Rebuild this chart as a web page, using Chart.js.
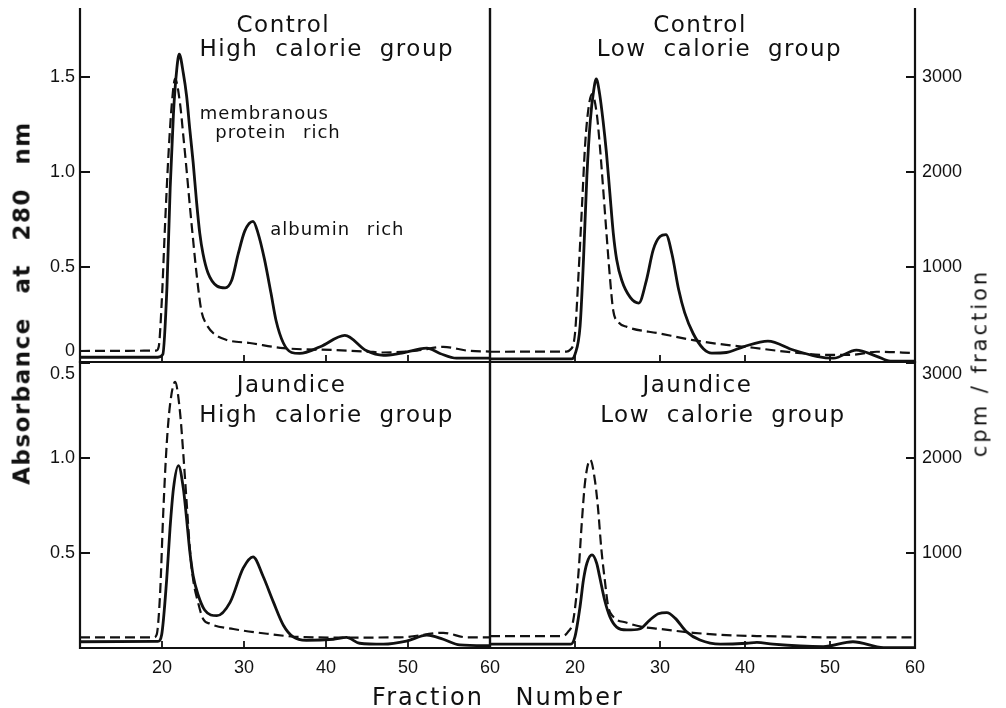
<!DOCTYPE html>
<html>
<head>
<meta charset="utf-8">
<script src="https://cdn.jsdelivr.net/npm/chart.js@4.4.1/dist/chart.umd.min.js"></script>
<style>
  html, body { margin: 0; padding: 0; background: #fff; }
  #wrap { position: relative; width: 1006px; height: 708px; overflow: hidden; background: #fff; }
  canvas { position: absolute; }
  .axis-title { position: absolute; white-space: nowrap; color: #111; line-height: 1;
    font-family: "DejaVu Sans", sans-serif; transform: translate(-50%, -50%); }
  .rot { transform: translate(-50%, -50%) rotate(-90deg); }
</style>
</head>
<body>
<div id="wrap">
  <canvas id="tl" width="510" height="364" style="left:0;top:0"></canvas>
  <canvas id="tr" width="518" height="364" style="left:488px;top:0"></canvas>
  <canvas id="bl" width="510" height="348" style="left:0;top:360px"></canvas>
  <canvas id="br" width="518" height="348" style="left:488px;top:360px"></canvas>
  <div class="axis-title rot" style="left:22px;top:303px;font-size:23px;font-weight:bold;letter-spacing:1.5px;word-spacing:14px">Absorbance at 280 nm</div>
  <div class="axis-title rot" style="left:980px;top:363px;font-size:21px;letter-spacing:3px">cpm / fraction</div>
  <div class="axis-title" style="left:498px;top:697px;font-size:24px;letter-spacing:2px;word-spacing:22px">Fraction Number</div>
</div>
<script>
// Gel filtration profiles: solid = absorbance at 280 nm (left axis),
// dashed = radioactivity, cpm/fraction (right axis).

// --- Control, high calorie group
const TL_SOLID_X = [10, 19.5, 20.1, 20.6, 21.0, 21.4, 21.8, 22.1, 22.6, 23.0, 23.4, 23.8, 24.2, 24.6, 25.0, 25.6, 26.7, 27.7, 28.5, 29.3, 30.1, 31.1, 31.7, 32.5, 33.3, 33.9, 34.8, 35.8, 36.8, 39.3, 42.3, 44.9, 47.0, 49.0, 52.3, 53.9, 55.9, 60];
const TL_SOLID = [0.025, 0.025, 0.04, 0.39, 0.92, 1.31, 1.54, 1.62, 1.52, 1.40, 1.22, 1.05, 0.85, 0.68, 0.57, 0.47, 0.40, 0.39, 0.43, 0.57, 0.69, 0.74, 0.68, 0.54, 0.36, 0.22, 0.10, 0.05, 0.045, 0.08, 0.14, 0.06, 0.035, 0.045, 0.073, 0.045, 0.02, 0.02];
const TL_DASH_X = [10, 19.3, 19.6, 19.96, 20.4, 20.8, 21.2, 21.6, 22.2, 22.6, 23.0, 23.4, 23.8, 24.2, 24.8, 25.4, 26.3, 27.9, 30.7, 34.8, 40.9, 45, 47, 51.1, 54.3, 57.2, 60];
const TL_DASH = [116, 120, 160, 620, 1500, 2200, 2720, 2980, 2720, 2380, 2020, 1640, 1280, 940, 540, 400, 300, 232, 200, 146, 126, 110, 100, 120, 160, 120, 110];

// --- Control, low calorie group
const TR_SOLID_X = [10, 19.6, 20.0, 20.6, 21.0, 21.4, 21.8, 22.2, 22.5, 22.9, 23.3, 23.7, 24.1, 24.5, 24.9, 25.5, 26.5, 27.5, 28.4, 29.2, 30.0, 30.7, 31.4, 32.2, 32.9, 33.9, 35.1, 36.1, 37.8, 39.8, 42.7, 45.7, 48.4, 50.4, 53.1, 55.5, 57.1, 60];
const TR_SOLID = [0.016, 0.016, 0.04, 0.19, 0.54, 0.98, 1.27, 1.43, 1.49, 1.41, 1.27, 1.10, 0.89, 0.68, 0.54, 0.43, 0.34, 0.31, 0.43, 0.59, 0.66, 0.67, 0.57, 0.38, 0.26, 0.15, 0.07, 0.047, 0.05, 0.08, 0.11, 0.063, 0.03, 0.02, 0.063, 0.03, 0.005, 0.005];
const TR_DASH_X = [10, 19.0, 19.4, 20.0, 20.4, 20.8, 21.2, 21.6, 22.0, 22.55, 22.9, 23.3, 23.7, 24.1, 24.5, 25.1, 26.1, 30.0, 33.9, 37.8, 41.0, 43.7, 46.5, 49.6, 52.4, 55.5, 60];
const TR_DASH = [108, 110, 126, 300, 900, 1600, 2300, 2680, 2820, 2620, 2300, 1840, 1360, 900, 540, 420, 370, 300, 230, 180, 150, 120, 94, 74, 74, 108, 94];

// --- Jaundice, high calorie group
const BL_SOLID_X = [10, 19.5, 19.96, 20.57, 20.98, 21.4, 22.0, 22.6, 23.0, 23.4, 23.8, 24.4, 25.2, 26.7, 28.3, 29.9, 31.1, 32.3, 33.6, 34.8, 36.0, 37.6, 40.9, 42.5, 44.1, 47.0, 49.8, 52.3, 54.3, 56.3, 60];
const BL_SOLID = [0.033, 0.035, 0.07, 0.36, 0.63, 0.84, 0.96, 0.84, 0.68, 0.505, 0.38, 0.28, 0.20, 0.17, 0.24, 0.42, 0.48, 0.38, 0.24, 0.12, 0.058, 0.04, 0.046, 0.056, 0.025, 0.02, 0.036, 0.068, 0.046, 0.016, 0.012];
const BL_DASH_X = [10, 19.0, 19.35, 19.76, 20.16, 20.57, 20.98, 21.6, 22.2, 22.6, 23.0, 23.4, 23.8, 24.4, 25.0, 25.85, 28.7, 32.8, 36.8, 42.9, 49.0, 54.3, 57.2, 60];
const BL_DASH = [112, 112, 140, 560, 1440, 2140, 2560, 2800, 2480, 2040, 1540, 1040, 720, 480, 308, 256, 200, 150, 116, 110, 112, 160, 112, 112];

// --- Jaundice, low calorie group
const BR_SOLID_X = [10, 19.5, 20.0, 20.6, 21.0, 21.4, 22.0, 22.55, 22.9, 23.5, 24.1, 24.9, 26.1, 27.6, 28.8, 29.8, 30.8, 31.8, 33.1, 34.7, 37.1, 40.2, 41.4, 43.3, 49.2, 52.7, 56.3, 60];
const BR_SOLID = [0.02, 0.02, 0.06, 0.22, 0.36, 0.446, 0.49, 0.446, 0.375, 0.25, 0.165, 0.11, 0.095, 0.10, 0.147, 0.18, 0.186, 0.156, 0.086, 0.042, 0.02, 0.025, 0.03, 0.02, 0.007, 0.033, 0.002, 0.002];
const BR_DASH_X = [10, 18.5, 19.2, 19.8, 20.4, 20.8, 21.2, 21.8, 22.35, 22.7, 23.1, 23.5, 23.9, 24.5, 26.1, 28.0, 30.0, 33.9, 37.8, 41.4, 45.3, 49.2, 60];
const BR_DASH = [126, 126, 172, 294, 780, 1320, 1760, 1980, 1760, 1480, 1040, 720, 440, 330, 266, 220, 200, 160, 136, 126, 120, 112, 112];

// Axis ticks and their labels
const X_TICKS = [20, 30, 40, 50, 60];
const X_LABELS = ["20", "30", "40", "50", "60"];
const TOP_Y_TICKS = [0, 0.5, 1.0, 1.5];
const TOP_Y_LABELS = ["0", "0.5", "1.0", "1.5"];
const BOTTOM_Y_TICKS = [0.5, 1.0, 1.5];
const BOTTOM_Y_LABELS = ["0.5", "1.0", "0.5"];
const CPM_TICKS = [1000, 2000, 3000];
const CPM_LABELS = ["1000", "2000", "3000"];

const INK = "#111";
const CPM_PER_ABS = 2000;       // right axis is left axis x 2000
const TOP_ABS_MAX = 352 / 190;  // top panels run a little above 1.5
const BOTTOM_ABS_MAX = 1.505;

Chart.defaults.font.family = "'Liberation Sans', Arial, sans-serif";
Chart.defaults.font.size = 18;
Chart.defaults.color = INK;

const pts = (xs, ys) => xs.map((x, i) => ({ x, y: ys[i] }));
// afterFit runs for hidden scales too, so only size the visible ones.
// Label overhang padding is dropped: the canvases overlap and leave room.
const fitTo = (prop, size) => (s) => {
  s[prop] = s.options.display ? size : 0;
  s.paddingTop = s.paddingBottom = s.paddingLeft = s.paddingRight = 0;
};

// Box lines plus inward tick marks, taken from the chart's own scales.
const framePlugin = {
  id: "frame",
  afterDatasetsDraw(chart, args, opts) {
    const { ctx, chartArea: a, scales } = chart;
    ctx.save();
    ctx.strokeStyle = INK;
    ctx.lineWidth = 2.2;
    ctx.beginPath();
    ctx.moveTo(a.left, a.top - (opts.closedTop ? 0 : 2));
    ctx.lineTo(a.left, a.bottom);
    ctx.lineTo(a.right, a.bottom);
    ctx.lineTo(a.right, a.top - (opts.closedTop ? 0 : 2));
    if (opts.closedTop) ctx.closePath();
    ctx.stroke();

    ctx.lineWidth = 1.8;
    ctx.beginPath();
    X_TICKS.forEach((v) => {
      if (v <= scales.x.min || v >= scales.x.max) return;
      const px = Math.round(scales.x.getPixelForValue(v));
      ctx.moveTo(px, a.bottom);
      ctx.lineTo(px, a.bottom - 7);
    });
    (opts.leftTicks || []).forEach((v) => {
      const py = Math.round(scales.y.getPixelForValue(v));
      ctx.moveTo(a.left, py);
      ctx.lineTo(a.left + 10, py);
    });
    (opts.rightTicks || []).forEach((v) => {
      const py = Math.round(scales.y2.getPixelForValue(v));
      ctx.moveTo(a.right, py);
      ctx.lineTo(a.right - 9, py);
    });
    ctx.stroke();

    // panel titles and peak notes, placed in data units
    (opts.notes || []).forEach((n) => {
      ctx.font = `${n.size}px 'DejaVu Sans', sans-serif`;
      ctx.fillStyle = INK;
      ctx.textAlign = n.align || "center";
      ctx.textBaseline = "alphabetic";
      ctx.letterSpacing = n.size > 20 ? "1.5px" : "1px";
      ctx.wordSpacing = n.size > 20 ? "8px" : "10px";
      ctx.fillText(n.text, scales.x.getPixelForValue(n.x), scales.y.getPixelForValue(n.y));
    });
    ctx.restore();
  },
};

// A label sitting on the shared border is nudged off it, as in the print.
function edgeLabel(labels) {
  return function (value, index) {
    const txt = labels[index];
    if (value === this.min) return [txt, ""];
    if (Math.abs(value - this.max) / this.max < 0.01) return ["", txt];
    return txt;
  };
}

function makePanel(id, cfg) {
  const absMax = cfg.top ? TOP_ABS_MAX : BOTTOM_ABS_MAX;
  const padding = cfg.left
    ? { top: cfg.top ? 10 : 2, right: 20, bottom: cfg.top ? 2 : 0, left: 0 }
    : { top: cfg.top ? 10 : 2, right: 0, bottom: cfg.top ? 2 : 0, left: 2 };

  return new Chart(document.getElementById(id), {
    type: "line",
    data: {
      datasets: [
        {
          label: "Absorbance at 280 nm",
          data: pts(cfg.solidX, cfg.solid),
          yAxisID: "y",
          borderColor: INK,
          borderWidth: 2.8,
          pointRadius: 0,
          cubicInterpolationMode: "monotone",
        },
        {
          label: "cpm / fraction",
          data: pts(cfg.dashX, cfg.dash),
          yAxisID: "y2",
          borderColor: INK,
          borderWidth: 2.2,
          borderDash: [10, 5],
          pointRadius: 0,
          cubicInterpolationMode: "monotone",
        },
      ],
    },
    options: {
      responsive: false,
      animation: false,
      events: [],
      layout: { padding },
      plugins: {
        legend: { display: false },
        tooltip: { enabled: false },
        frame: {
          closedTop: !cfg.top,
          leftTicks: cfg.left ? cfg.yTicks : [],
          rightTicks: cfg.left ? [] : CPM_TICKS,
          notes: cfg.notes,
        },
      },
      scales: {
        x: {
          type: "linear",
          min: 10,
          max: 60,
          display: !cfg.top,
          grid: { display: false, drawTicks: false },
          border: { display: false },
          afterBuildTicks: (s) => { s.ticks = X_TICKS.map((value) => ({ value })); },
          afterFit: fitTo("height", 60),
          ticks: { autoSkip: false, maxRotation: 0, padding: 9, callback: (v, i) => X_LABELS[i] },
        },
        y: {
          position: "left",
          min: 0,
          max: absMax,
          display: cfg.left,
          grid: { display: false, drawTicks: false },
          border: { display: false },
          afterBuildTicks: (s) => { s.ticks = cfg.yTicks.map((value) => ({ value })); },
          afterFit: fitTo("width", 80),
          ticks: { padding: 5, callback: edgeLabel(cfg.yLabels) },
        },
        y2: {
          position: "right",
          min: 0,
          max: absMax * CPM_PER_ABS,
          display: !cfg.left,
          grid: { display: false, drawTicks: false },
          border: { display: false },
          afterBuildTicks: (s) => { s.ticks = CPM_TICKS.map((value) => ({ value })); },
          afterFit: fitTo("width", 91),
          ticks: { padding: 7, callback: edgeLabel(CPM_LABELS) },
        },
      },
    },
    plugins: [framePlugin],
  });
}

makePanel("tl", {
  top: true, left: true,
  solidX: TL_SOLID_X, solid: TL_SOLID, dashX: TL_DASH_X, dash: TL_DASH,
  yTicks: TOP_Y_TICKS, yLabels: TOP_Y_LABELS,
  notes: [
    { text: "Control", x: 34.8, y: 1.739, size: 23 },
    { text: "High calorie group", x: 40.1, y: 1.61, size: 23 },
    { text: "membranous", x: 24.6, y: 1.28, size: 18, align: "left" },
    { text: "protein rich", x: 26.5, y: 1.18, size: 18, align: "left" },
    { text: "albumin rich", x: 33.2, y: 0.668, size: 18, align: "left" },
  ],
});

makePanel("tr", {
  top: true, left: false,
  solidX: TR_SOLID_X, solid: TR_SOLID, dashX: TR_DASH_X, dash: TR_DASH,
  yTicks: TOP_Y_TICKS, yLabels: TOP_Y_LABELS,
  notes: [
    { text: "Control", x: 34.7, y: 1.739, size: 23 },
    { text: "Low calorie group", x: 37.0, y: 1.61, size: 23 },
  ],
});

makePanel("bl", {
  top: false, left: true,
  solidX: BL_SOLID_X, solid: BL_SOLID, dashX: BL_DASH_X, dash: BL_DASH,
  yTicks: BOTTOM_Y_TICKS, yLabels: BOTTOM_Y_LABELS,
  notes: [
    { text: "Jaundice", x: 35.8, y: 1.347, size: 23 },
    { text: "High calorie group", x: 40.06, y: 1.189, size: 23 },
  ],
});

makePanel("br", {
  top: false, left: false,
  solidX: BR_SOLID_X, solid: BR_SOLID, dashX: BR_DASH_X, dash: BR_DASH,
  yTicks: BOTTOM_Y_TICKS, yLabels: BOTTOM_Y_LABELS,
  notes: [
    { text: "Jaundice", x: 34.4, y: 1.347, size: 23 },
    { text: "Low calorie group", x: 37.4, y: 1.189, size: 23 },
  ],
});
</script>
</body>
</html>
